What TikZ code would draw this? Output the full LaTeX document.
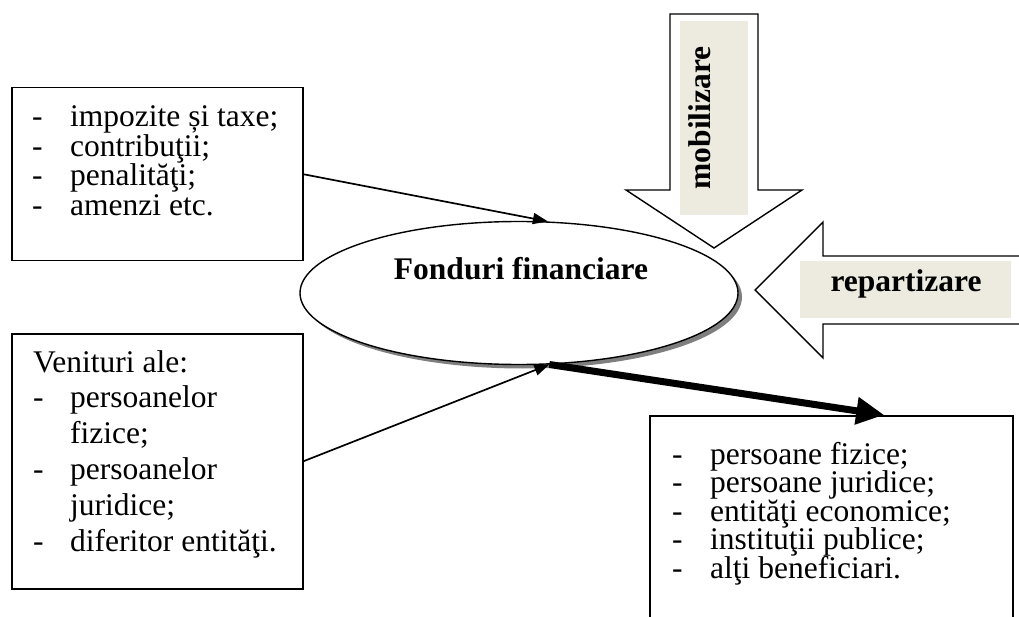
\documentclass[tikz,border=0pt]{standalone}
\usepackage{fontspec}
\setmainfont{Liberation Serif}
\usetikzlibrary{arrows.meta,shapes.geometric,shadows}
\definecolor{beige}{HTML}{EDEBE0}
\definecolor{shade}{HTML}{7F7F7F}
\newcommand\itm[1]{\smash{#1}}
\begin{document}
\begin{tikzpicture}[x=1pt,y=-1pt,
  frame/.style={draw,line width=1.5pt,inner sep=0pt,anchor=north west},
  txt/.style={inner sep=0pt,anchor=base west},
  thin/.style={line width=1.7pt,-{Triangle[length=15pt,width=11pt]}},
  thick/.style={line width=7pt,-{Triangle[length=28pt,width=26pt]}},
  blockarrow/.style={draw,line width=1.4pt,fill=white,line join=miter},
  tag/.style={fill=beige,draw=none},
  bold/.style={inner sep=0pt,font=\fontsize{31.5}{34}\selectfont\bfseries}]
\useasboundingbox (0,0) rectangle (1019,617);
\clip (0,0) rectangle (1019,617);

% ellipse
\node[ellipse,draw,line width=1.4pt,fill=white,minimum width=438pt,minimum height=143pt,inner sep=0pt,
  drop shadow={shadow xshift=4pt,shadow yshift=-4pt,fill=shade,opacity=1}] (ff) at (519,293) {};
\node[bold,anchor=base] (ffl) at (521,280) {Fonduri financiare};

% mobilizare block arrow
\draw[blockarrow] (670,14) -- (758,14) -- (758,190) -- (802,190) -- (714,248) -- (626,190) -- (670,190) -- cycle;
\fill[tag] (680,21) rectangle (748,215);
\node[bold,rotate=90,anchor=base] (mob) at (710,118) {mobilizare};

% repartizare block arrow
\filldraw[blockarrow] (1030,256) -- (823,256) -- (823,222) -- (755,290) -- (823,358) -- (823,324) -- (1030,324);
\fill[tag] (800,261) rectangle (1011,318);
\node[bold,anchor=base] (rep) at (906,292) {repartizare};

% boxes
\node[frame,minimum width=291pt,minimum height=173pt] (b1) at (11,87) {};
\node[txt,font=\fontsize{31.5}{29.4}\selectfont] (t1) at (32,127) {\begin{tabular}[t]{@{}p{38pt}@{}l@{}}
- & \itm{impozite și taxe;}\\
- & \itm{contribuţii;}\\
- & \itm{penalităţi;}\\
- & \itm{amenzi etc.}
\end{tabular}};

\node[frame,minimum width=291pt,minimum height=255pt] (b2) at (11,333) {};
\node[txt,font=\fontsize{31.5}{35.8}\selectfont] (t2) at (33,372) {\begin{tabular}[t]{@{}p{37pt}@{}l@{}}
\multicolumn{2}{@{}l@{}}{\itm{Venituri ale:}}\\
- & \itm{persoanelor}\\
  & \itm{fizice;}\\
- & \itm{persoanelor}\\
  & \itm{juridice;}\\
- & \itm{diferitor entităţi.}
\end{tabular}};

\node[frame,minimum width=363pt,minimum height=220pt] (b3) at (649,415) {};
\node[txt,font=\fontsize{31.5}{28.6}\selectfont] (t3) at (672,464) {\begin{tabular}[t]{@{}p{38pt}@{}l@{}}
- & \itm{persoane fizice;}\\
- & \itm{persoane juridice;}\\
- & \itm{entităţi economice;}\\
- & \itm{instituţii publice;}\\
- & \itm{alţi beneficiari.}
\end{tabular}};

% connectors
\draw[thin] (b1.east) -- (ff.68);
\draw[thin] (b2.east) -- (ff.-67);
\draw[thick] (ff.-67) -- ([xshift=53pt]b3.north);
\end{tikzpicture}
\end{document}
